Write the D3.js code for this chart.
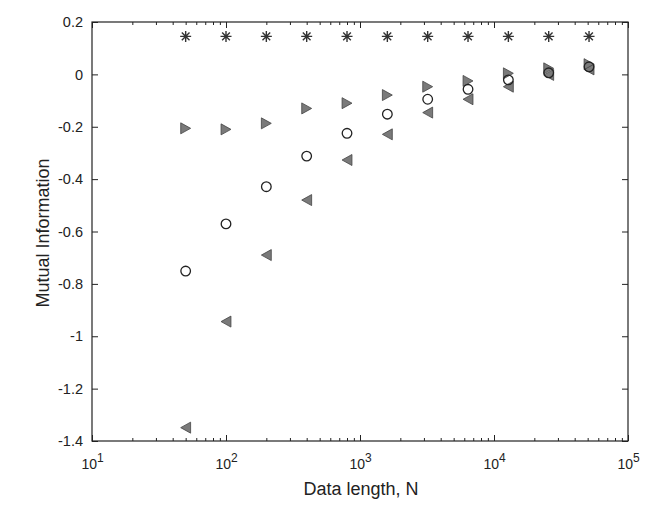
<!DOCTYPE html>
<html>
<head>
<meta charset="utf-8">
<script src="https://cdn.jsdelivr.net/npm/d3@7"></script>
<style>
  body { margin: 0; background: #fff; }
  text { font-family: "Liberation Sans", Arial, sans-serif; fill: #222; }
</style>
</head>
<body>
<div id="chart"></div>
<script>
// data length N
var dataN = [50, 100, 200, 400, 800, 1600, 3200, 6400, 12800, 25600, 51200];
// series values
var starVals  = [0.145, 0.145, 0.145, 0.145, 0.145, 0.145, 0.145, 0.145, 0.145, 0.145, 0.145];
var rightVals = [-0.206, -0.210, -0.187, -0.130, -0.110, -0.079, -0.047, -0.025, 0.004, 0.023, 0.039];
var circVals  = [-0.751, -0.571, -0.429, -0.312, -0.225, -0.152, -0.095, -0.057, -0.021, 0.006, 0.029];
var leftVals  = [-1.349, -0.944, -0.690, -0.480, -0.327, -0.229, -0.146, -0.095, -0.047, -0.002, 0.019];
// tick values
var yTicks = [0.2, 0, -0.2, -0.4, -0.6, -0.8, -1, -1.2, -1.4];
var xTicks = [10, 100, 1000, 10000, 100000];

var W = 664, H = 513;
/*plot area edges*/
var pLeft = 92, pRight = 628, pTop = 22, pBottom = 441;

var svg = d3.select("#chart").append("svg")
    .attr("width", W)
    .attr("height", H);

var x = d3.scaleLog().domain([10, 100000]).range([pLeft, pRight]);
var y = d3.scaleLinear().domain([-1.4, 0.2]).range([pBottom, pTop]);

/*minor ticks of log axis*/
var minor = [];
for (var e = 1; e < 5; e++) {
    for (var k = 2; k <= 9; k++) minor.push(k * Math.pow(10, e));
}

function styleAxis(g) {
    g.select(".domain").remove();
    g.selectAll(".tick line").attr("stroke", "#222").attr("stroke-width", 1);
}

/*bottom axis*/
var xAxis = d3.axisBottom(x).tickValues(xTicks).tickSize(-6).tickPadding(17)
    .tickFormat(function(d) { return ""; });
var gx = svg.append("g").attr("transform", "translate(0," + pBottom + ")").call(xAxis).call(styleAxis);
gx.selectAll(".tick text").each(function(d) {
    var t = d3.select(this).attr("font-size", 14).attr("dy", "0.8em");
    t.append("tspan").text("10");
    t.append("tspan").attr("dy", "-0.62em").attr("font-size", 12).text(Math.round(Math.log10(d)));
});
svg.append("g").attr("transform", "translate(0," + pBottom + ")")
    .call(d3.axisBottom(x).tickValues(minor).tickSize(-3).tickFormat(""))
    .call(styleAxis);

/*top axis*/
svg.append("g").attr("transform", "translate(0," + pTop + ")")
    .call(d3.axisTop(x).tickValues(xTicks).tickSize(-6).tickFormat(""))
    .call(styleAxis);
svg.append("g").attr("transform", "translate(0," + pTop + ")")
    .call(d3.axisTop(x).tickValues(minor).tickSize(-3).tickFormat(""))
    .call(styleAxis);

/*left axis*/
var gy = svg.append("g").attr("transform", "translate(" + pLeft + ",0)")
    .call(d3.axisLeft(y).tickValues(yTicks).tickSize(-6).tickPadding(9)
        .tickFormat(function(d) { return String(+d.toFixed(1)); }))
    .call(styleAxis);
gy.selectAll(".tick text").attr("font-size", 14.5);

/*right axis*/
svg.append("g").attr("transform", "translate(" + pRight + ",0)")
    .call(d3.axisRight(y).tickValues(yTicks).tickSize(-6).tickFormat(""))
    .call(styleAxis);

/*box*/
svg.append("rect")
    .attr("x", pLeft).attr("y", pTop)
    .attr("width", pRight - pLeft).attr("height", pBottom - pTop)
    .attr("fill", "none").attr("stroke", "#222").attr("stroke-width", 1.2);

/*axis titles*/
svg.append("text")
    .attr("x", 361).attr("y", 495)
    .attr("text-anchor", "middle").attr("font-size", 18)
    .text("Data length, N");
svg.append("text")
    .attr("transform", "translate(49,233) rotate(-90)")
    .attr("text-anchor", "middle").attr("font-size", 18)
    .text("Mutual Information");

/*marker shapes*/
var r = 5.5;
var starPath = "M" + (-r) + ",0L" + r + ",0M0," + (-r) + "L0," + r +
    "M" + (-r * 0.7) + "," + (-r * 0.7) + "L" + (r * 0.7) + "," + (r * 0.7) +
    "M" + (-r * 0.7) + "," + (r * 0.7) + "L" + (r * 0.7) + "," + (-r * 0.7);
var rightPath = "M" + (-r * 0.9) + "," + (-r) + "L" + (r * 0.9) + ",0L" + (-r * 0.9) + "," + r + "Z";
var leftPath = "M" + (r * 0.9) + "," + (-r) + "L" + (-r * 0.9) + ",0L" + (r * 0.9) + "," + r + "Z";

var plot = svg.append("g");

function drawSeries(vals, path, fill, stroke, sw) {
    plot.append("g").selectAll("path")
        .data(dataN.map(function(n, i) { return [n, vals[i]]; }))
        .enter().append("path")
        .attr("d", path)
        .attr("transform", function(d) { return "translate(" + x(d[0]) + "," + y(d[1]) + ")"; })
        .attr("fill", fill).attr("stroke", stroke).attr("stroke-width", sw);
}

drawSeries(starVals, starPath, "none", "#333", 1.4);
drawSeries(leftVals, leftPath, "#7a7a7a", "#444", 0.8);
drawSeries(rightVals, rightPath, "#7a7a7a", "#444", 0.8);

plot.append("g").selectAll("circle")
    .data(dataN.map(function(n, i) { return [n, circVals[i]]; }))
    .enter().append("circle")
    .attr("cx", function(d) { return x(d[0]); })
    .attr("cy", function(d) { return y(d[1]); })
    .attr("r", 4.8)
    .attr("fill", "none").attr("stroke", "#222").attr("stroke-width", 1.3);
</script>
</body>
</html>
